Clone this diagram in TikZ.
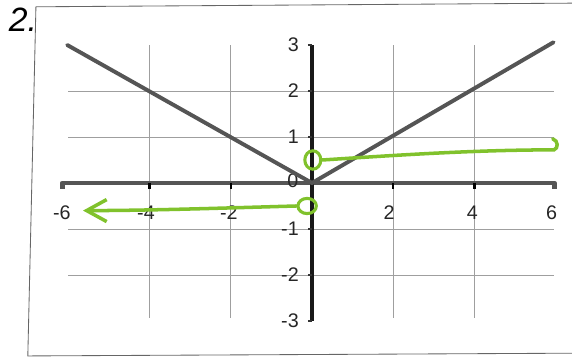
\documentclass[tikz,border=0pt]{standalone}
\usepackage{fontspec}
\setmainfont{Liberation Sans}
\usetikzlibrary{arrows.meta, positioning, shapes.geometric, calc}

\definecolor{hilite}{RGB}{128,194,44}
\definecolor{pencil}{RGB}{85,85,85}

\begin{document}
\begin{tikzpicture}[
    x=1.015cm, y=1.15cm,
    frameline/.style={gray!80!black, line width=0.6pt},
    gridline/.style={gray!75, line width=0.6pt},
    xaxis/.style={pencil, line width=3.4pt, line join=round},
    yaxis/.style={black!90, line width=2.6pt},
    vline/.style={pencil, line width=2.8pt, line cap=round},
    greenline/.style={hilite, line width=2.5pt, line cap=round},
    opendot/.style={ellipse, draw=hilite, line width=2.2pt, inner sep=0pt, minimum width=0.40cm, minimum height=0.46cm},
    numlabel/.style={font=\fontsize{14}{16}\selectfont, inner sep=0pt, text=black!85}
  ]
  \useasboundingbox (-7.685,-3.804) rectangle (6.404,3.978);

  % sheet border
  \coordinate (tr) at (6.45,3.91);
  \coordinate (tl) at (-6.80,3.83);
  \coordinate (bl) at (-7.00,-3.76);
  \coordinate (br) at (6.45,-3.70);
  \draw[frameline] (tr) -- (tl) -- (bl) -- (br);
  \node[font=\fontsize{24}{24}\selectfont\itshape, inner sep=0pt] (num) at (-7.12,3.54) {2.};

  % grid
  \foreach \x in {-4,-2,2,4}
    \draw[gridline] (\x,-2.93) -- (\x,3.0);
  \foreach \y in {-2,-1,1,2}
    \draw[gridline] (-6.0,\y) -- (5.95,\y);

  % axes
  \coordinate (xl) at (-6.15,0);
  \coordinate (xr) at (5.97,0);
  \coordinate (yb) at (0,-3);
  \coordinate (yt) at (0,3);
  \draw[xaxis] ($(xl)+(0,-0.12)$) -- (xl) -- (xr) -- ($(xr)+(0,-0.12)$);
  \draw[yaxis] (yb) -- (yt);
  \foreach \x in {-4,-2,2,4}
    \draw[black, line width=1.6pt] (\x,0) -- (\x,-0.13);
  \foreach \y in {-3,-2,-1,1,2,3}
    \draw[black!80, line width=1.6pt] (-0.1,\y) -- (0,\y);

  % tick labels
  \foreach \x/\t in {-6.16/-6,-4.09/-4,-2.05/-2,1.90/2,3.95/4,5.90/6}
    \node[numlabel] at (\x,-0.65) {\t};
  \foreach \y/\t in {3/3,2/2,1/1,-1/-1,-2/-2,-3/-3}
    \node[numlabel, anchor=east] at (-0.32,\y) {\t};
  \node[numlabel] (zero) at (-0.47,0.05) {0};

  % y = |x|/2
  \coordinate (vl) at (-6.03,3.0);
  \coordinate (vo) at (0,0);
  \coordinate (vr) at (5.95,3.06);
  \draw[vline] (vl) -- (vo) -- (vr);

  % green pieces
  \node[opendot] (upper) at (0.02,0.50) {};
  \node[opendot, minimum width=0.46cm, minimum height=0.38cm] (lower) at (-0.12,-0.50) {};
  \coordinate (rightend) at (5.96,0.72);
  \coordinate (leftend) at (-5.64,-0.60);
  \draw[greenline] (upper.east) .. controls (2.0,0.60) and (4.0,0.72) .. (rightend)
    .. controls (6.07,0.75) and (6.07,0.92) .. (5.93,0.96);
  \draw[greenline, -{Straight Barb[length=5mm, width=5.5mm, line width=2.5pt]}]
    (lower.west) .. controls (-2.0,-0.54) and (-4.0,-0.60) .. (leftend);
\end{tikzpicture}
\end{document}
